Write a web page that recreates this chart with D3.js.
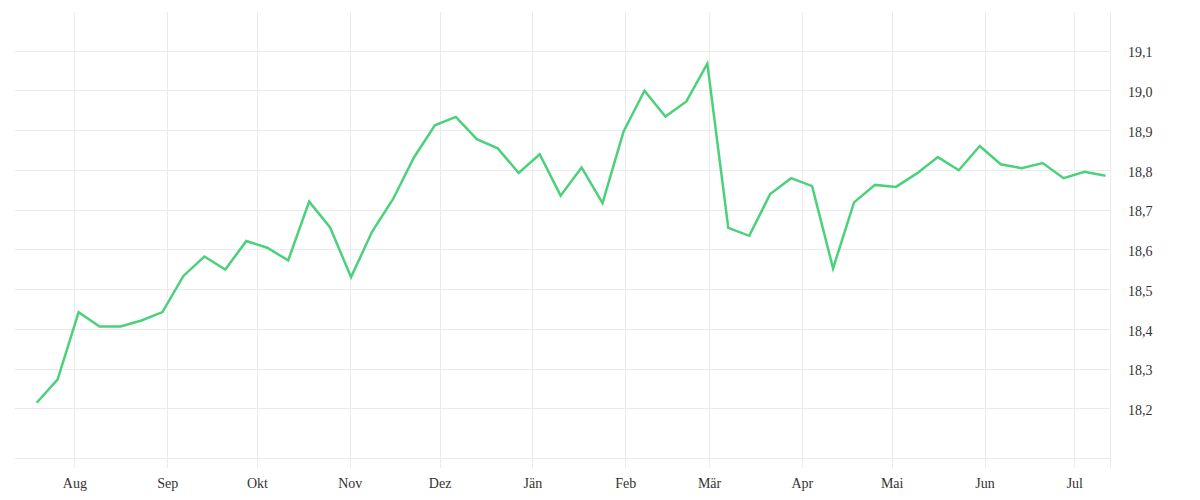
<!DOCTYPE html>
<html>
<head>
<meta charset="utf-8">
<script src="https://cdn.jsdelivr.net/npm/d3@7"></script>
<style>
  html, body { margin: 0; padding: 0; background: #fff; }
  svg text { font-family: "Liberation Serif", serif; font-size: 14px; fill: #333; }
  .grid line { stroke: #ebebeb; stroke-width: 1; }
  .line { fill: none; stroke: #4cd17b; stroke-width: 2.5; }
</style>
</head>
<body>
<div id="container"></div>
<script>
/* DATA */
const dates = [
  "2022-07-19", "2022-07-26", "2022-08-02", "2022-08-09", "2022-08-16", "2022-08-23",
  "2022-08-30", "2022-09-06", "2022-09-13", "2022-09-20", "2022-09-27", "2022-10-04",
  "2022-10-11", "2022-10-18", "2022-10-25", "2022-11-01", "2022-11-08", "2022-11-15",
  "2022-11-22", "2022-11-29", "2022-12-06", "2022-12-13", "2022-12-20", "2022-12-27",
  "2023-01-03", "2023-01-10", "2023-01-17", "2023-01-24", "2023-01-31", "2023-02-07",
  "2023-02-14", "2023-02-21", "2023-02-28", "2023-03-07", "2023-03-14", "2023-03-21",
  "2023-03-28", "2023-04-04", "2023-04-11", "2023-04-18", "2023-04-25", "2023-05-02",
  "2023-05-09", "2023-05-16", "2023-05-23", "2023-05-30", "2023-06-06", "2023-06-13",
  "2023-06-20", "2023-06-27", "2023-07-04", "2023-07-11"
];
const values = [
  18.214, 18.273, 18.442, 18.406, 18.406, 18.421, 18.442, 18.533, 18.582, 18.549,
  18.621, 18.604, 18.572, 18.720, 18.655, 18.530, 18.644, 18.726, 18.831, 18.912,
  18.933, 18.877, 18.854, 18.792, 18.839, 18.735, 18.806, 18.716, 18.896, 18.999,
  18.934, 18.972, 19.067, 18.654, 18.634, 18.739, 18.779, 18.759, 18.552, 18.718,
  18.762, 18.757, 18.791, 18.832, 18.799, 18.860, 18.814, 18.804, 18.817, 18.779,
  18.795, 18.785
];
const monthNames = ["Jän", "Feb", "Mär", "Apr", "Mai", "Jun", "Jul", "Aug", "Sep", "Okt", "Nov", "Dez"];
const yTicks = [18.2, 18.3, 18.4, 18.5, 18.6, 18.7, 18.8, 18.9, 19.0, 19.1];
const xDomain = ["2022-07-12T04:00", "2023-07-12T22:00"];
const yDomain = [18.075, 19.197];

/* LAYOUT */
const width = 1200, height = 500;
const plot = {left: 15, right: 1110, top: 12, bottom: 458};

// points sit a little after midnight in the original
const data = dates.map((d, i) => ({date: new Date(d + "T10:00"), value: values[i]}));

const x = d3.scaleTime()
    .domain(xDomain.map(d => new Date(d)))
    .range([plot.left, plot.right]);
const y = d3.scaleLinear()
    .domain(yDomain)
    .range([plot.bottom, plot.top]);

const de = d3.formatLocale({decimal: ",", thousands: ".", grouping: [3], currency: ["", " €"]});
const fmt = de.format(".1f");

const svg = d3.select("#container").append("svg")
    .attr("width", width)
    .attr("height", height);

const monthTicks = d3.timeMonth.range(new Date(2022, 7, 1), new Date(2023, 6, 2));

/* GRID */
const grid = svg.append("g").attr("class", "grid");
grid.selectAll(".h").data(yTicks).join("line")
    .attr("class", "h")
    .attr("x1", plot.left).attr("x2", plot.right)
    .attr("y1", d => Math.round(y(d)) + 0.5).attr("y2", d => Math.round(y(d)) + 0.5);
grid.selectAll(".v").data(monthTicks).join("line")
    .attr("class", "v")
    .attr("x1", d => Math.round(x(d)) + 0.5).attr("x2", d => Math.round(x(d)) + 0.5)
    .attr("y1", plot.top).attr("y2", plot.bottom + 10);
grid.append("line")
    .attr("x1", plot.left).attr("x2", plot.right)
    .attr("y1", plot.bottom + 0.5).attr("y2", plot.bottom + 0.5);
grid.append("line")
    .attr("x1", plot.right + 0.5).attr("x2", plot.right + 0.5)
    .attr("y1", plot.top).attr("y2", plot.bottom + 10);

/* X AXIS */
const xAxis = svg.append("g")
    .attr("transform", "translate(0," + plot.bottom + ")")
    .call(d3.axisBottom(x)
      .tickValues(monthTicks)
      .tickSize(0)
      .tickPadding(20)
      .tickFormat(d => monthNames[d.getMonth()]));
xAxis.select(".domain").remove();
xAxis.selectAll("text").attr("fill", "#333");

/* Y AXIS */
const yAxis = svg.append("g")
    .attr("transform", "translate(" + plot.right + ",0)")
    .call(d3.axisRight(y)
      .tickValues(yTicks)
      .tickSize(0)
      .tickPadding(18)
      .tickFormat(fmt));
yAxis.select(".domain").remove();
yAxis.selectAll("text").attr("fill", "#333").attr("dy", "0.45em");

/* LINE */
const line = d3.line()
    .x(d => x(d.date))
    .y(d => y(d.value));

svg.append("path")
    .datum(data)
    .attr("class", "line")
    .attr("d", line);
</script>
</body>
</html>
